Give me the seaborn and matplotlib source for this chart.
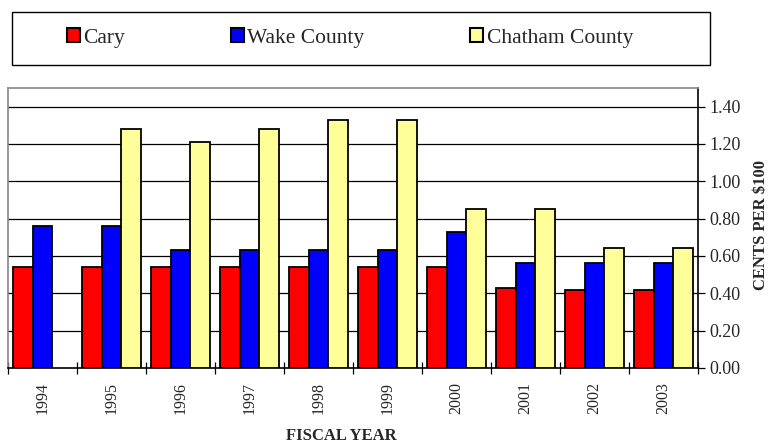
import numpy as np
import pandas as pd
import seaborn as sns
import matplotlib.pyplot as plt
from matplotlib.ticker import FixedLocator

years = ["1994", "1995", "1996", "1997", "1998", "1999", "2000", "2001", "2002", "2003"]
cary = [0.54, 0.54, 0.54, 0.54, 0.54, 0.54, 0.54, 0.43, 0.42, 0.42]
wake = [0.76, 0.76, 0.63, 0.63, 0.63, 0.63, 0.73, 0.565, 0.565, 0.565]
chatham = [np.nan, 1.28, 1.21, 1.28, 1.33, 1.33, 0.85, 0.85, 0.645, 0.645]
series_names = ["Cary", "Wake County", "Chatham County"]
y_ticks = [0.0, 0.2, 0.4, 0.6, 0.8, 1.0, 1.2, 1.4]

colors = ["#ff0000", "#0000ff", "#ffff99"]

df = pd.DataFrame({
    "year": years * 3,
    "value": cary + wake + chatham,
    "series": [n for n in series_names for _ in years],
})

sns.set_style("white")
plt.rcParams['font.family'] = ['Liberation Serif', 'DejaVu Serif']

fig = plt.figure(figsize=(7.69, 4.45), dpi=100)
ax = fig.add_axes([8 / 769, 1 - 368 / 445, 690 / 769, 280 / 445])

sns.barplot(data=df, x="year", y="value", hue="series", hue_order=series_names,
            order=years, palette=colors, width=0.85, edgecolor="black",
            linewidth=1.3, saturation=1, legend=False, ax=ax, zorder=3)

ax.set_ylim(0, 1.5)
ax.set_xlim(-0.5, len(years) - 0.5)
for yv in y_ticks[1:]:
    ax.axhline(yv, color="black", lw=0.9, zorder=1)

ax.yaxis.tick_right()
ax.set_yticks(y_ticks)
ax.set_yticklabels([f"{v:.2f}" for v in y_ticks], fontsize=13)
ax.tick_params(axis="y", direction="out", length=5, width=0.9, color="black", right=True, left=False, pad=3)

ax.set_xticks(range(len(years)))
ax.set_xticklabels(years, rotation=90, fontsize=11.5)
ax.tick_params(axis="x", which="major", length=0, pad=10)
ax.xaxis.set_minor_locator(FixedLocator(np.arange(-0.5, len(years), 1.0)))
ax.tick_params(axis="x", which="minor", direction="inout", length=8, width=0.9, color="black", bottom=True)

ax.set_xlabel("")
ax.set_ylabel("")
for side in ["top", "left"]:
    ax.spines[side].set_color("#888888")
    ax.spines[side].set_linewidth(1.2)
for side in ["right", "bottom"]:
    ax.spines[side].set_color("black")
    ax.spines[side].set_linewidth(1.2)

fig.text(341 / 769, 1 - 436 / 445, "FISCAL YEAR", ha="center", va="center",
         fontsize=12, fontweight="bold")
fig.text(761 / 769, 1 - 225 / 445, "CENTS PER $100", ha="center", va="center",
         rotation=90, fontsize=12, fontweight="bold")

handles = [plt.Rectangle((0, 0), 1, 1, facecolor=c, edgecolor="black", linewidth=1.5) for c in colors]
leg = fig.legend(handles, series_names, loc="center left",
                 bbox_to_anchor=(67 / 769, 1 - 38 / 445),
                 ncol=3, fontsize=15.5, frameon=False, handlelength=0.62, handleheight=0.62,
                 handletextpad=0.15, columnspacing=4.9, borderaxespad=0, borderpad=0)
fig.patches.append(plt.Rectangle((12 / 769, 1 - 65 / 445), 698 / 769, 53 / 445,
                                 transform=fig.transFigure, fill=False,
                                 edgecolor="black", linewidth=1.0))

fig.savefig("out.png", dpi=100)
